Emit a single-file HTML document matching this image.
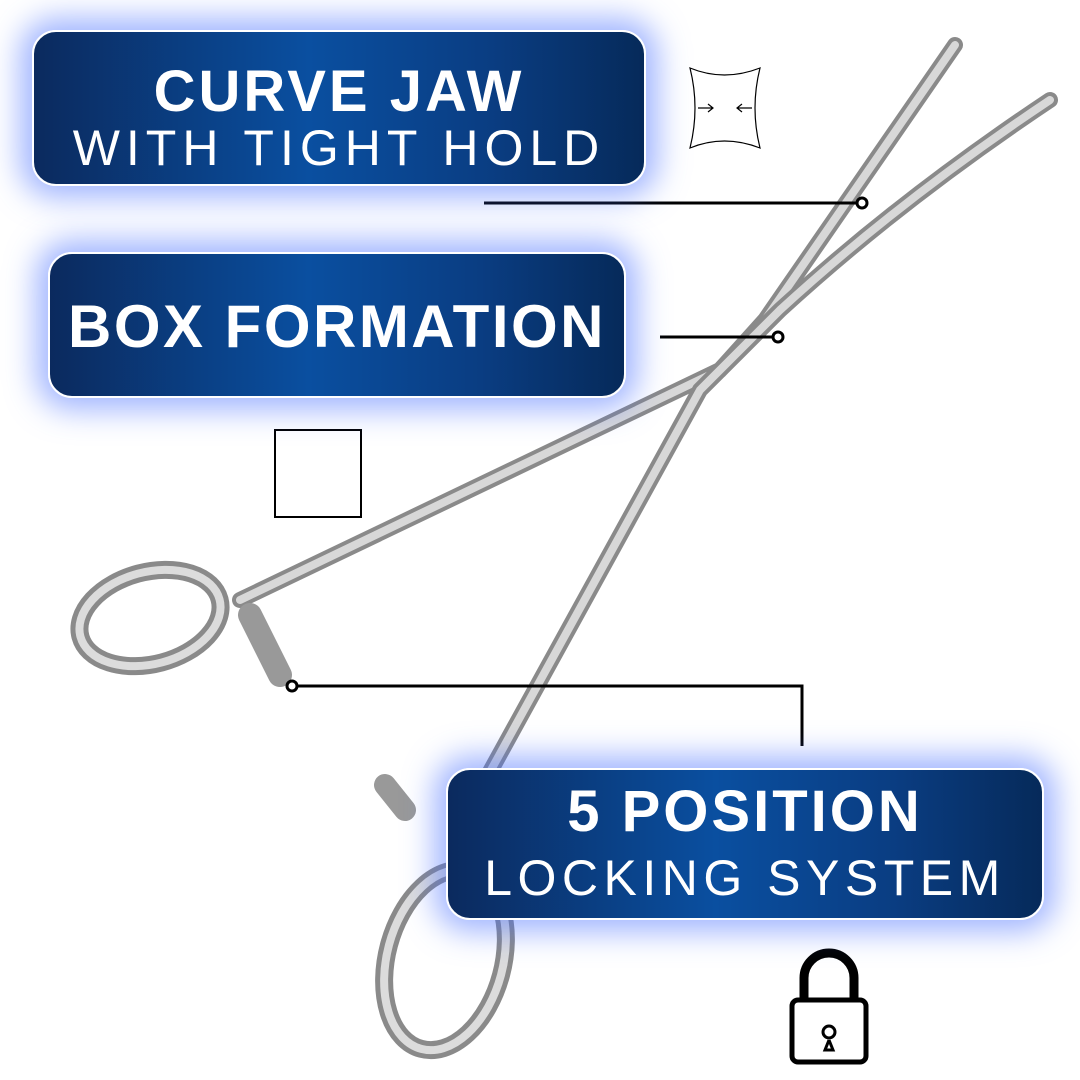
<!DOCTYPE html>
<html><head><meta charset="utf-8"><style>
body{margin:0;width:1080px;height:1080px;background:#fff;position:relative;overflow:hidden;font-family:"Liberation Sans",sans-serif}
.box{position:absolute;border:2px solid #fff;border-radius:24px;background:linear-gradient(90deg,#0b2a5e 0%,#0a4fa0 45%,#0a3d82 75%,#062a5a 100%);box-shadow:0 0 30px 12px rgba(70,110,255,.5);color:#fff;text-align:center;box-sizing:border-box}
.b{font-weight:bold}
.t{position:absolute;left:0;right:0;white-space:nowrap}
svg{position:absolute;left:0;top:0}
</style></head><body>
<svg width="1080" height="1080">
<g fill="none" stroke-linecap="round">
<path d="M240 600 L720 370 L765 320 L955 45" stroke="#8a8a8a" stroke-width="16"/>
<path d="M240 600 L720 370 L765 320 L955 45" stroke="#d8d8d8" stroke-width="8"/>
<path d="M480 790 L700 390 L780 310 Q900 200 1050 100" stroke="#8a8a8a" stroke-width="16"/>
<path d="M480 790 L700 390 L780 310 Q900 200 1050 100" stroke="#d8d8d8" stroke-width="8"/>
<ellipse cx="150" cy="618" rx="72" ry="46" transform="rotate(-15 150 618)" stroke="#8a8a8a" stroke-width="18"/>
<ellipse cx="150" cy="618" rx="72" ry="46" transform="rotate(-15 150 618)" stroke="#dcdcdc" stroke-width="8"/>
<ellipse cx="445" cy="960" rx="58" ry="92" transform="rotate(15 445 960)" stroke="#8a8a8a" stroke-width="18"/>
<ellipse cx="445" cy="960" rx="58" ry="92" transform="rotate(15 445 960)" stroke="#dcdcdc" stroke-width="8"/>
<path d="M250 615 L280 675" stroke="#999" stroke-width="24"/>
<path d="M385 785 L405 810" stroke="#999" stroke-width="22"/>
</g>
<g stroke="#000" stroke-width="3" fill="none">
<line x1="484" y1="203" x2="857" y2="203"/><circle cx="862" cy="203" r="5" fill="#fff"/>
<line x1="660" y1="337" x2="773" y2="337"/><circle cx="778" cy="337" r="5" fill="#fff"/>
<polyline points="297,686 802,686 802,746"/><circle cx="292" cy="686" r="5" fill="#fff"/>
<rect x="275" y="430" width="86" height="87" stroke-width="2"/>
<path d="M690 68 Q724 82 760 68 Q750 108 760 148 Q724 134 690 148 Q700 108 690 68Z" stroke-width="1.2"/>
<path d="M698 108h15m-5-4l5 4-5 4M752 108h-15m5-4l-5 4 5 4" stroke-width="1.2"/>
<path d="M804 1000v-22a25 25 0 0 1 50 0v22" stroke-width="9"/>
<rect x="792" y="1000" width="74" height="62" rx="6" stroke-width="5"/>
<path d="M829 1040l-4 10h8l-4-10" stroke-width="3"/><circle cx="829" cy="1032" r="6" stroke-width="3"/>
</g>
</svg>
<div class="box" style="left:32px;top:30px;width:614px;height:156px">
<div class="t b" style="top:30px;font-size:58px;line-height:60px;letter-spacing:3px">CURVE JAW</div>
<div class="t" style="top:90px;font-size:50px;line-height:52px;letter-spacing:6px">WITH TIGHT HOLD</div></div>
<div class="box" style="left:48px;top:252px;width:578px;height:146px">
<div class="t b" style="top:42px;font-size:60px;line-height:62px;letter-spacing:2.5px">BOX FORMATION</div></div>
<div class="box" style="left:446px;top:768px;width:598px;height:152px">
<div class="t b" style="top:12px;font-size:58px;line-height:60px;letter-spacing:3px">5 POSITION</div>
<div class="t" style="top:82px;font-size:50px;line-height:52px;letter-spacing:5.5px">LOCKING SYSTEM</div></div>
</body></html>
